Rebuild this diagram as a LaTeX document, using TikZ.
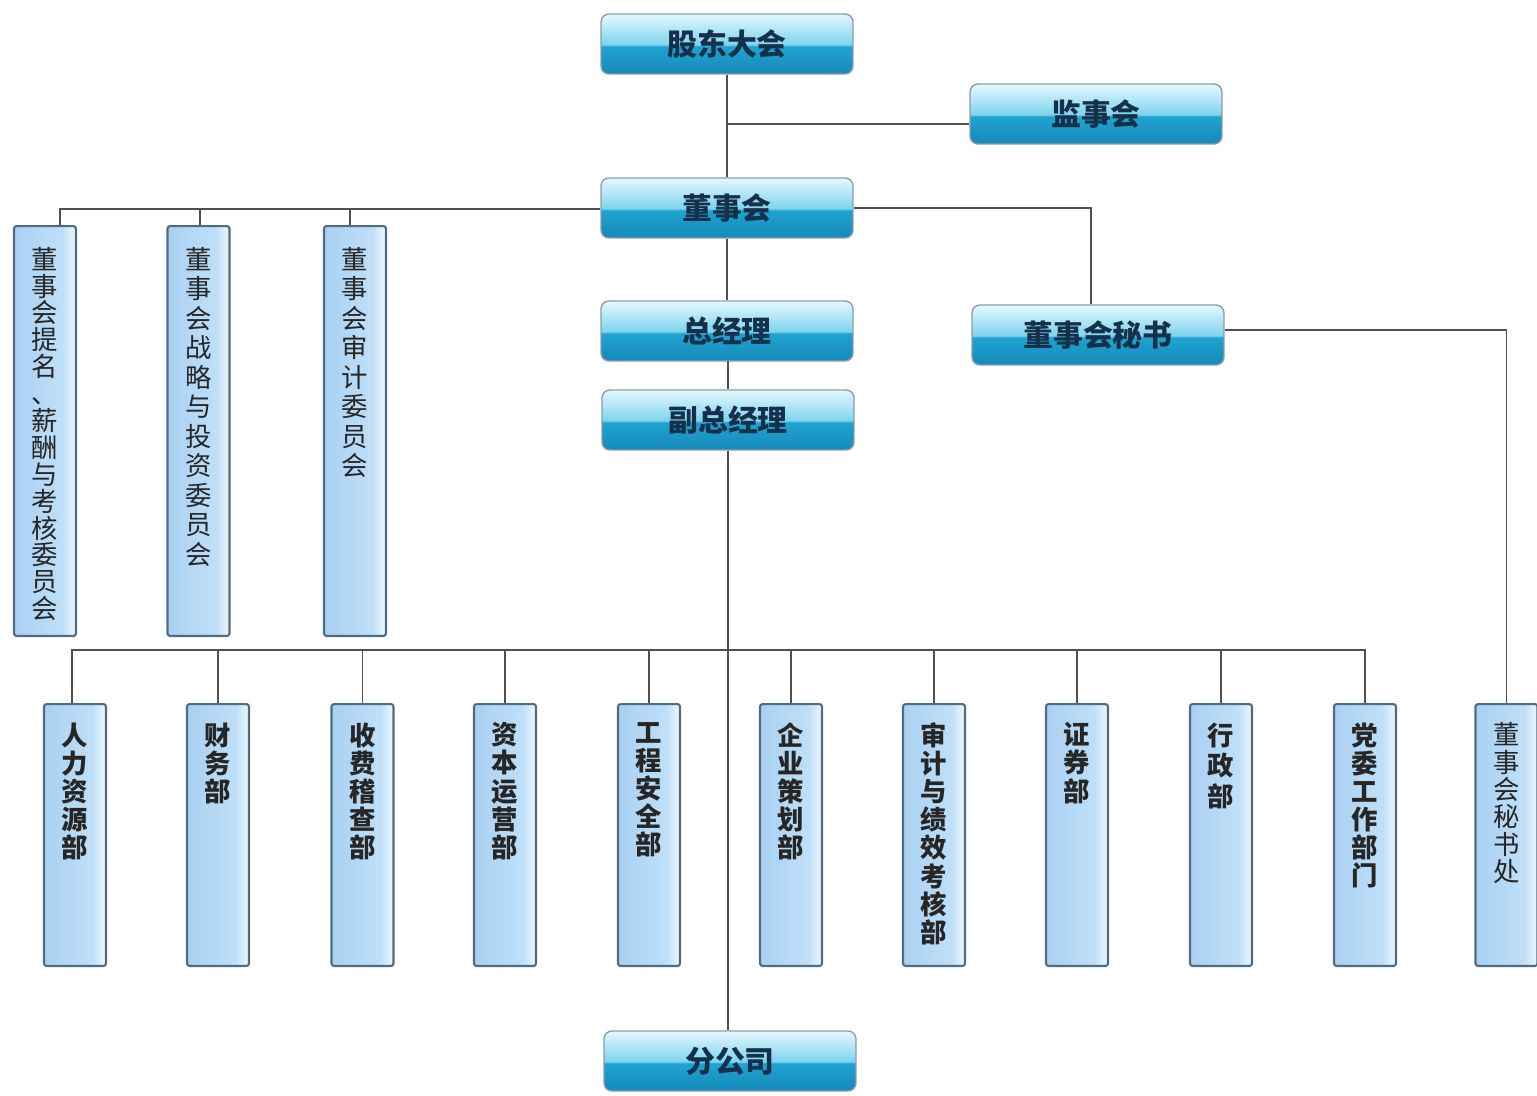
\documentclass[tikz,border=0pt]{standalone}
\usepackage{fontspec}
\setmainfont{Noto Sans CJK SC}
\usetikzlibrary{calc}
\definecolor{gdark}{HTML}{1689BA}
\definecolor{gmid}{HTML}{1FA3D0}
\definecolor{glighttwo}{HTML}{7FD3EE}
\definecolor{glight}{HTML}{E4F9FE}
\definecolor{hborder}{HTML}{8C9CA8}
\definecolor{htext}{HTML}{15304A}
\definecolor{vl}{HTML}{A9D0F2}
\definecolor{vm}{HTML}{BFDFF8}
\definecolor{vr}{HTML}{F0F8FE}
\definecolor{vborder}{HTML}{4F6C82}
\definecolor{linec}{HTML}{505050}
\pgfdeclareverticalshading{glossy}{100bp}{color(0bp)=(gdark); color(25bp)=(gdark); color(48bp)=(gmid); color(49.5bp)=(glighttwo); color(75bp)=(glight); color(100bp)=(glight)}
\pgfdeclarehorizontalshading{vshade}{100bp}{color(0bp)=(vl); color(25bp)=(vl); color(64bp)=(vm); color(75bp)=(vr); color(100bp)=(vr)}
\newcommand\vstack[4]{\parbox[c][#1][t]{1.2cm}{\centering\fontsize{15}{#2}\selectfont\lineskiplimit=-20pt\vspace*{#3}#4\par}}
\tikzset{
  hbox/.style={rectangle, rounded corners=4.5pt, draw=hborder, line width=0.8pt, shading=glossy,
    minimum width=5.04cm, minimum height=1.2cm, inner sep=0pt,
    font=\fontsize{17}{20}\selectfont\bfseries, text=htext},
  vbox/.style={rectangle, rounded corners=1.5pt, draw=vborder, line width=1.2pt, shading=vshade,
    minimum width=1.24cm, inner sep=0pt, anchor=north, text=black!85},
  conn/.style={draw=linec, line width=1.1pt}
}
\begin{document}
\begin{tikzpicture}[x=0.02cm, y=-0.02cm]
\useasboundingbox (0,0) rectangle (1537,1095);
% horizontal glossy boxes
\node[hbox] (gddh) at (727,44) {股东大会};
\node[hbox] (jsh) at (1096,114) {监事会};
\node[hbox] (dsh) at (727,208) {董事会};
\node[hbox] (zjl) at (727,331) {总经理};
\node[hbox] (fzjl) at (728,420) {副总经理};
\node[hbox] (dmis) at (1098,335) {董事会秘书};
\node[hbox] (fgs) at (730,1061) {分公司};
% top committee boxes
\node[vbox, minimum height=8.2cm] (b1) at (45,225) {\vstack{8.2cm}{15.3pt}{0.42cm}{董\\事\\会\\提\\名\\、\\薪\\酬\\与\\考\\核\\委\\员\\会}};
\node[vbox, minimum height=8.2cm] (b2) at (198.5,225) {\vstack{8.2cm}{16.8pt}{0.42cm}{董\\事\\会\\战\\略\\与\\投\\资\\委\\员\\会}};
\node[vbox, minimum height=8.2cm] (b3) at (355,225) {\vstack{8.2cm}{16.8pt}{0.42cm}{董\\事\\会\\审\\计\\委\\员\\会}};
% bottom department boxes
\node[vbox, minimum height=5.24cm] (d1) at (75,703) {\bfseries\vstack{5.24cm}{16pt}{0.37cm}{人\\力\\资\\源\\部}};
\node[vbox, minimum height=5.24cm] (d2) at (218,703) {\bfseries\vstack{5.24cm}{16pt}{0.37cm}{财\\务\\部}};
\node[vbox, minimum height=5.24cm] (d3) at (362.5,703) {\bfseries\vstack{5.24cm}{16pt}{0.37cm}{收\\费\\稽\\查\\部}};
\node[vbox, minimum height=5.24cm] (d4) at (505,703) {\bfseries\vstack{5.24cm}{16pt}{0.37cm}{资\\本\\运\\营\\部}};
\node[vbox, minimum height=5.24cm] (d5) at (649,703) {\bfseries\vstack{5.24cm}{16pt}{0.37cm}{工\\程\\安\\全\\部}};
\node[vbox, minimum height=5.24cm] (d6) at (791,703) {\bfseries\vstack{5.24cm}{16pt}{0.37cm}{企\\业\\策\\划\\部}};
\node[vbox, minimum height=5.24cm] (d7) at (934,703) {\bfseries\vstack{5.24cm}{16pt}{0.37cm}{审\\计\\与\\绩\\效\\考\\核\\部}};
\node[vbox, minimum height=5.24cm] (d8) at (1077,703) {\bfseries\vstack{5.24cm}{16pt}{0.37cm}{证\\券\\部}};
\node[vbox, minimum height=5.24cm] (d9) at (1221,703) {\bfseries\vstack{5.24cm}{17.5pt}{0.37cm}{行\\政\\部}};
\node[vbox, minimum height=5.24cm] (d10) at (1365,703) {\bfseries\vstack{5.24cm}{16pt}{0.37cm}{党\\委\\工\\作\\部\\门}};
\node[vbox, minimum height=5.24cm] (d11) at (1506.5,703) {\vstack{5.24cm}{15.6pt}{0.37cm}{董\\事\\会\\秘\\书\\处}};
% connectors
\coordinate (jj) at (727,124);
\coordinate (bus) at (729,650);
\draw[conn] (gddh.south) -- (dsh.north);
\draw[conn] (jj) -- (jj -| jsh.west);
\draw[conn] (dsh.south) -- (zjl.north);
\draw[conn] (zjl.south) -- (fzjl.south |- zjl.south) -- (fzjl.north);
\draw[conn] (dsh.east) -| ($(dmis.north)+(-7,0)$);
\draw[conn] ($(dmis.east)+(0,-5)$) -| (d11.north);
\draw[conn] ($(dsh.west)+(0,1)$) -| ($(b1.north)+(15,0)$);
\draw[conn] ($(b2.north)+(1.5,0)$) -- ($(b2.north)+(1.5,-16)$);
\draw[conn] ($(b3.north)+(-5,0)$) -- ($(b3.north)+(-5,-16)$);
\draw[conn] (fzjl.south) -- (fzjl.south |- fgs.north);
\draw[conn] ($(d1.north)+(-3,0)$) -- ($(d1.north)+(-3,-53)$) -| (d10.north);
\foreach \d in {d2,d3,d4,d5,d6,d7,d8,d9}{
  \draw[conn] (\d.north) -- (\d.north |- bus);
}
\end{tikzpicture}
\end{document}
